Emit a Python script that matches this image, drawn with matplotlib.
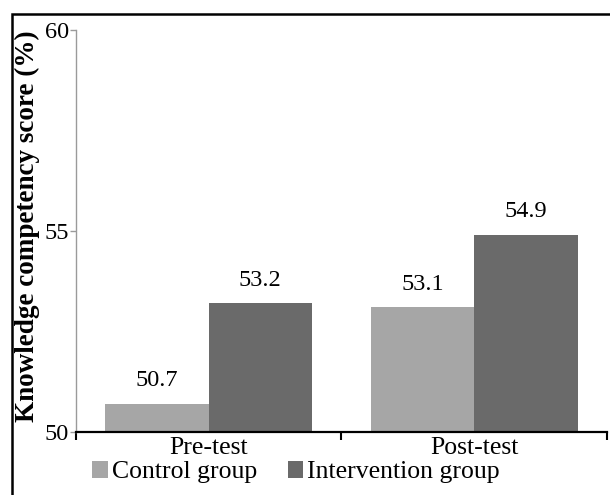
import matplotlib
matplotlib.use("Agg")
import matplotlib.pyplot as plt
from matplotlib.patches import Rectangle, Patch
import numpy as np

categories = ["Pre-test", "Post-test"]
series_names = ["Control group", "Intervention group"]
control = [50.7, 53.1]
intervention = [53.2, 54.9]
y_ticks = [50, 55, 60]
colors = ["#a6a6a6", "#6a6a6a"]

plt.rcParams["font.family"] = ["Liberation Serif", "DejaVu Serif"]

W, H = 610, 495
fig = plt.figure(figsize=(W / 100, H / 100), dpi=100)
ax_l, ax_r, ax_t, ax_b = 75.7, 607, 30, 431.7
ax = fig.add_axes([ax_l / W, 1 - ax_b / H, (ax_r - ax_l) / W, (ax_b - ax_t) / H])

x = np.arange(len(categories))
bw = 0.39
series = [control, intervention]
for i, (vals, name, c) in enumerate(zip(series, series_names, colors)):
    bars = ax.bar(x + (i - 0.5) * bw, vals, width=bw, color=c, label=name,
                  bottom=0, zorder=2)
    ax.bar_label(bars, labels=[f"{v:.1f}" for v in vals], padding=9, fontsize=17.5)

ax.set_ylim(50, 60)
ax.set_xlim(-0.5, len(categories) - 0.5)
ax.set_yticks(y_ticks)
ax.set_yticklabels([str(t) for t in y_ticks], fontsize=17.5)
ax.tick_params(axis="y", direction="out", length=4, width=1, color="#9a9a9a", pad=1)

ax.set_xticks(np.arange(-0.5, len(categories), 1.0))
ax.set_xticklabels([])
ax.tick_params(axis="x", which="major", direction="out", length=6, width=1.5, color="black")
ax.set_xticks(x, minor=True)
ax.set_xticklabels(categories, minor=True, fontsize=18.5)
ax.tick_params(axis="x", which="minor", length=0, pad=4)

for s in ["top", "right"]:
    ax.spines[s].set_visible(False)
ax.spines["left"].set_color("#9a9a9a")
ax.spines["left"].set_linewidth(1.0)
ax.spines["bottom"].set_color("black")
ax.spines["bottom"].set_linewidth(1.6)
ax.spines["bottom"].set_zorder(3)

fig.text(27 / W, 1 - 226 / H, "Knowledge competency score (%)", rotation=90,
         ha="center", va="center", fontsize=19.5, fontweight="bold")

handles = [Patch(facecolor=c, edgecolor="none") for c in colors]
fig.legend(handles, series_names, loc="center", bbox_to_anchor=(296 / W, 1 - 472 / H),
           ncol=2, frameon=False, fontsize=18.5, handlelength=0.6, handleheight=0.7,
           handletextpad=0.15, columnspacing=1.2, borderpad=0, borderaxespad=0)

fig.patches.append(Rectangle((12.5 / W, -0.1), 1.2, 1.1 - 13.5 / H,
                             transform=fig.transFigure, fill=False,
                             edgecolor="black", linewidth=1.8, zorder=10))

fig.savefig("out.png", dpi=100)
